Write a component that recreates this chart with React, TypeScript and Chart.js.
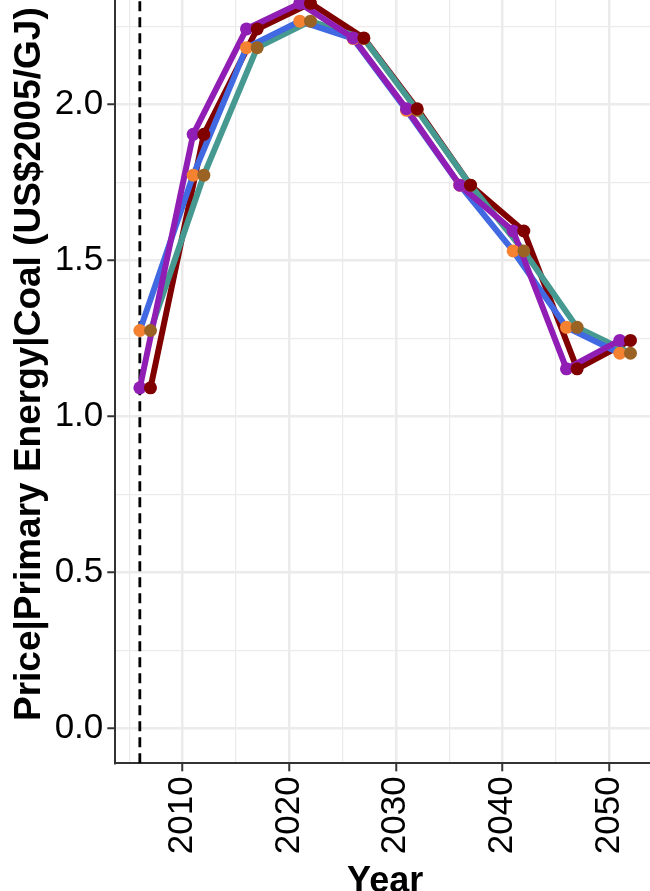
import React, { useEffect, useRef } from 'react';
import { Chart, registerables } from 'chart.js';

Chart.register(...registerables);

// ---- data ----
const yearsA = [2006, 2011, 2016, 2021, 2026, 2031, 2036, 2041, 2046, 2051];
const yearsB = [2007, 2012, 2017, 2022, 2027, 2032, 2037, 2042, 2047, 2052];
const priceA = [1.092, 1.905, 2.243, 2.325, 2.214, 1.987, 1.742, 1.595, 1.153, 1.244];
const priceB = [1.276, 1.774, 2.183, 2.268, 2.212, 1.982, 1.742, 1.531, 1.286, 1.203];
const baseYear = 2006;

const xMajorTicks = [2010, 2020, 2030, 2040, 2050];
const xMinorTicks = [2005, 2015, 2025, 2035, 2045];
const yMajorTicks = [0, 0.5, 1, 1.5, 2];
const yMinorTicks = [0.25, 0.75, 1.25, 1.75, 2.25];
const yTickLabels = ['0.0', '0.5', '1.0', '1.5', '2.0'];
const xRange = [2003.7, 2054.3];
const yRange = [-0.112, 2.448];

const xTitle = 'Year';
const yTitle = 'Price|Primary Energy|Coal (US$2005/GJ)';

// ---- styles ----
const C = {
  purple: '#911eb4',
  maroon: '#800000',
  blue: '#4169e1',
  teal: '#469990',
  orange: '#f58231',
  brown: '#9a6324',
  grid: '#EBEBEB',
  axis: '#333333',
};
const FONT = "'Liberation Sans', Arial, Helvetica, sans-serif";

const pts = (xs: number[], ys: number[]) => xs.map((x, i) => ({ x, y: ys[i] }));

const lineDs = (data: any, color: string, order: number) => ({
  data,
  borderColor: color,
  backgroundColor: color,
  borderWidth: 6,
  borderJoinStyle: 'round',
  pointRadius: 0,
  tension: 0,
  order,
});
const pointDs = (data: any, color: string, order: number) => ({
  data,
  showLine: false,
  borderColor: color,
  backgroundColor: color,
  borderWidth: 0,
  pointRadius: 6.5,
  pointBorderWidth: 0,
  order,
});

export default function App() {
  const ref = useRef<HTMLCanvasElement | null>(null);

  useEffect(() => {
    if (!ref.current) return;
    const isMajorX = (v: number) => xMajorTicks.indexOf(v) >= 0;
    const isMajorY = (v: number) => yMajorTicks.indexOf(v) >= 0;

    const chart = new Chart(ref.current, {
      type: 'line',
      data: {
        datasets: [
          {
            data: [
              { x: baseYear, y: yRange[0] },
              { x: baseYear, y: yRange[1] },
            ],
            borderColor: '#000000',
            borderWidth: 2.8,
            borderDash: [10, 6],
            pointRadius: 0,
            order: 9,
          },
          lineDs(pts(yearsB, priceA), C.maroon, 8),
          lineDs(pts(yearsB, priceB), C.teal, 7),
          lineDs(pts(yearsA, priceB), C.blue, 6),
          lineDs(pts(yearsA, priceA), C.purple, 5),
          pointDs(pts(yearsA, priceB), C.orange, 4),
          pointDs(pts(yearsB, priceB), C.brown, 3),
          pointDs(pts(yearsA, priceA), C.purple, 2),
          pointDs(pts(yearsB, priceA), C.maroon, 1),
        ] as any,
      },
      options: {
        responsive: false,
        animation: false,
        events: [],
        layout: { padding: { top: 22.6, right: 25, bottom: 0, left: 0 } },
        plugins: { legend: { display: false }, tooltip: { enabled: false } },
        scales: {
          x: {
            type: 'linear',
            min: xRange[0],
            max: xRange[1],
            afterBuildTicks: (scale: any) => {
              scale.ticks = [...xMajorTicks, ...xMinorTicks]
                .sort((a, b) => a - b)
                .map((v) => ({ value: v }));
            },
            afterFit: (scale: any) => {
              scale.height = 156.7;
            },
            ticks: {
              autoSkip: false,
              minRotation: 90,
              maxRotation: 90,
              padding: 5,
              color: '#000000',
              font: { family: FONT, size: 35 },
              callback: (v: any) => (isMajorX(v) ? String(v) : ''),
            },
            grid: {
              color: C.grid,
              lineWidth: (c: any) => (c.tick && isMajorX(c.tick.value) ? 2.5 : 1.2),
              tickColor: (c: any) => (c.tick && isMajorX(c.tick.value) ? C.axis : 'rgba(0,0,0,0)'),
              tickWidth: 2,
              tickLength: 8,
            },
            border: { display: true, color: C.axis, width: 2 },
            title: {
              display: true,
              text: xTitle,
              color: '#000000',
              font: { family: FONT, size: 36, weight: 'bold' },
              padding: { top: 0, bottom: 16.8 },
            },
          },
          y: {
            type: 'linear',
            min: yRange[0],
            max: yRange[1],
            afterBuildTicks: (scale: any) => {
              scale.ticks = [...yMajorTicks, ...yMinorTicks]
                .sort((a, b) => a - b)
                .map((v) => ({ value: v }));
            },
            afterFit: (scale: any) => {
              scale.width = 115.3;
            },
            ticks: {
              autoSkip: false,
              padding: 4,
              color: '#000000',
              font: { family: FONT, size: 35 },
              callback: (v: any) => {
                const i = yMajorTicks.indexOf(v);
                return i >= 0 ? yTickLabels[i] : '';
              },
            },
            grid: {
              color: C.grid,
              lineWidth: (c: any) => (c.tick && isMajorY(c.tick.value) ? 2.5 : 1.2),
              tickColor: (c: any) => (c.tick && isMajorY(c.tick.value) ? C.axis : 'rgba(0,0,0,0)'),
              tickWidth: 2,
              tickLength: 8,
            },
            border: { display: true, color: C.axis, width: 2 },
            title: {
              display: true,
              text: yTitle,
              color: '#000000',
              font: { family: FONT, size: 37, weight: 'bold' },
              padding: { top: 7.5, bottom: 0 },
            },
          },
        },
      } as any,
    });
    return () => chart.destroy();
  }, []);

  return (
    <div
      style={{
        position: 'fixed',
        left: 0,
        top: 0,
        width: 650,
        height: 891,
        overflow: 'hidden',
        background: '#ffffff',
      }}
    >
      <canvas
        ref={ref}
        width={680}
        height={980}
        style={{ position: 'absolute', left: 0, top: -60, width: 680, height: 980 }}
      />
    </div>
  );
}
